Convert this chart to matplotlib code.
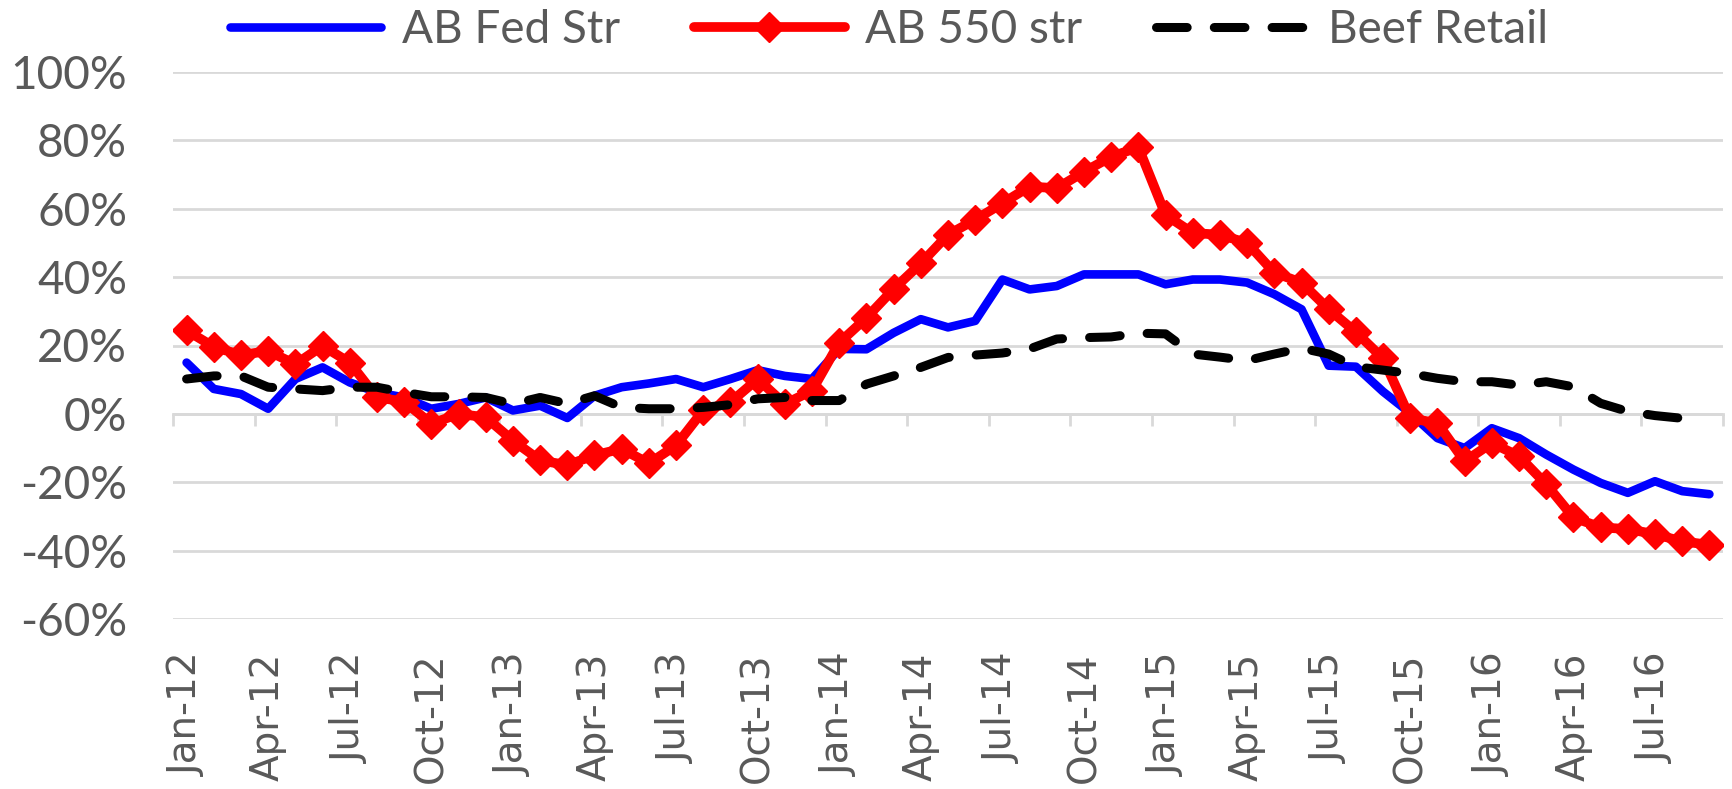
import numpy as np
import pandas as pd
import matplotlib
matplotlib.use("Agg")
import matplotlib.pyplot as plt

# monthly categories Jan-12 .. Sep-16
months = pd.date_range("2012-01-01", periods=57, freq="MS").strftime("%b-%y").tolist()

# values in %
ab_fed_str = [15.0, 7.3, 5.8, 1.5, 10.2, 13.6, 9.2, 6.3, 4.8, 1.5, 2.9, 4.8, 1.0, 2.4, -1.2,
              5.3, 7.8, 8.9, 10.2, 7.8, 10.2, 12.8, 11.1, 10.2, 19.0, 18.9, 23.7, 27.7, 25.3,
              27.2, 39.3, 36.4, 37.4, 40.8, 40.8, 40.8, 37.9, 39.3, 39.3, 38.4, 35.0, 30.6, 14.1,
              13.8, 6.5, 0.2, -7.1, -10.0, -4.2, -7.1, -11.9, -16.3, -20.2, -23.1, -19.7, -22.6, -23.5]

ab_550_str = [24.4, 19.6, 17.2, 18.4, 14.5, 19.9, 15.0, 4.8, 3.6, -2.9, 0.0, -1.0, -7.8, -13.6, -15.0,
              -12.1, -10.2, -14.5, -9.2, 1.0, 3.4, 10.2, 2.9, 6.8, 20.8, 28.1, 36.5, 44.0, 52.4,
              56.8, 61.6, 66.5, 66.0, 70.8, 75.2, 78.0, 58.2, 52.9, 52.4, 50.0, 41.3, 38.4, 30.6,
              23.9, 16.2, -1.3, -2.7, -13.9, -8.5, -12.4, -20.6, -30.3, -33.2, -33.7, -35.2, -37.3, -38.3]

beef_retail = [10.2, 11.1, 11.1, 7.8, 7.3, 6.8, 7.8, 7.8, 6.3, 5.0, 5.0, 4.8, 2.9, 4.8, 3.0,
               5.3, 1.9, 1.5, 1.5, 1.9, 2.7, 4.4, 4.8, 3.9, 3.9, 8.7, 11.1, 13.6, 16.5,
               17.2, 17.8, 19.0, 21.9, 22.3, 22.5, 23.6, 23.4, 17.5, 16.6, 15.6, 17.5, 19.2, 17.5,
               13.8, 12.8, 11.8, 10.4, 9.4, 9.4, 8.4, 9.4, 7.9, 3.1, 0.7, -0.5, -1.3, np.nan]

series_names = ["AB Fed Str", "AB 550 str", "Beef Retail"]

TXT = "#595959"
GRID = "#D9D9D9"
W, H = 1733, 789

fig = plt.figure(figsize=(W / 100, H / 100), dpi=100)
ax = fig.add_axes([173 / W, 1 - 619 / H, (1723 - 173) / W, (619 - 72) / H])

x = np.arange(len(months))

ax.plot(x, ab_fed_str, color="#0000FF", lw=6.2, solid_joinstyle="round",
        solid_capstyle="round", label=series_names[0], zorder=3)
ax.plot(x, ab_550_str, color="#FF0000", lw=7, marker="D", ms=15, mec="#FF0000",
        mfc="#FF0000", solid_joinstyle="round", solid_capstyle="round",
        label=series_names[1], zorder=4)
ax.plot(x, beef_retail, color="black", lw=6.5, dashes=(3.4, 3.0), dash_capstyle="round",
        label=series_names[2], zorder=5)

ax.set_xlim(-0.5, len(months) - 0.5)
ax.set_ylim(-60, 100)

# y axis
yt = np.arange(-60, 101, 20)
ax.set_yticks(yt)
ax.set_yticklabels([f"{v}%" for v in yt], fontfamily="Lato", fontsize=33, color=TXT)
ax.tick_params(axis="y", length=0, pad=33)
ax.yaxis.grid(True, color=GRID, lw=2)
ax.set_axisbelow(True)

# x labels at the bottom
ax.set_xticks(x[::3])
ax.set_xticklabels(months[::3], rotation=90, fontfamily="DejaVu Sans", fontsize=28,
                   color=TXT, va="top", ha="center")
ax.tick_params(axis="x", length=0, pad=24)

for s in ax.spines.values():
    s.set_visible(False)

# category axis line crossing at 0%
secax = ax.secondary_xaxis(60 / 160)
secax.set_xticks(np.arange(-0.5, len(months), 3))
secax.set_xticklabels([])
secax.tick_params(axis="x", length=8.5, width=2, color=GRID, direction="out")
secax.spines["bottom"].set_color(GRID)
secax.spines["bottom"].set_linewidth(2)
secax.set_zorder(1)

leg = ax.legend(loc="center", bbox_to_anchor=(0.513, 0.962), bbox_transform=fig.transFigure,
                ncol=3, frameon=False, handlelength=3.3, handletextpad=0.45,
                columnspacing=1.6, prop={"family": "Lato", "size": 33})
for t in leg.get_texts():
    t.set_color(TXT)

fig.savefig("out.png", dpi=100)
